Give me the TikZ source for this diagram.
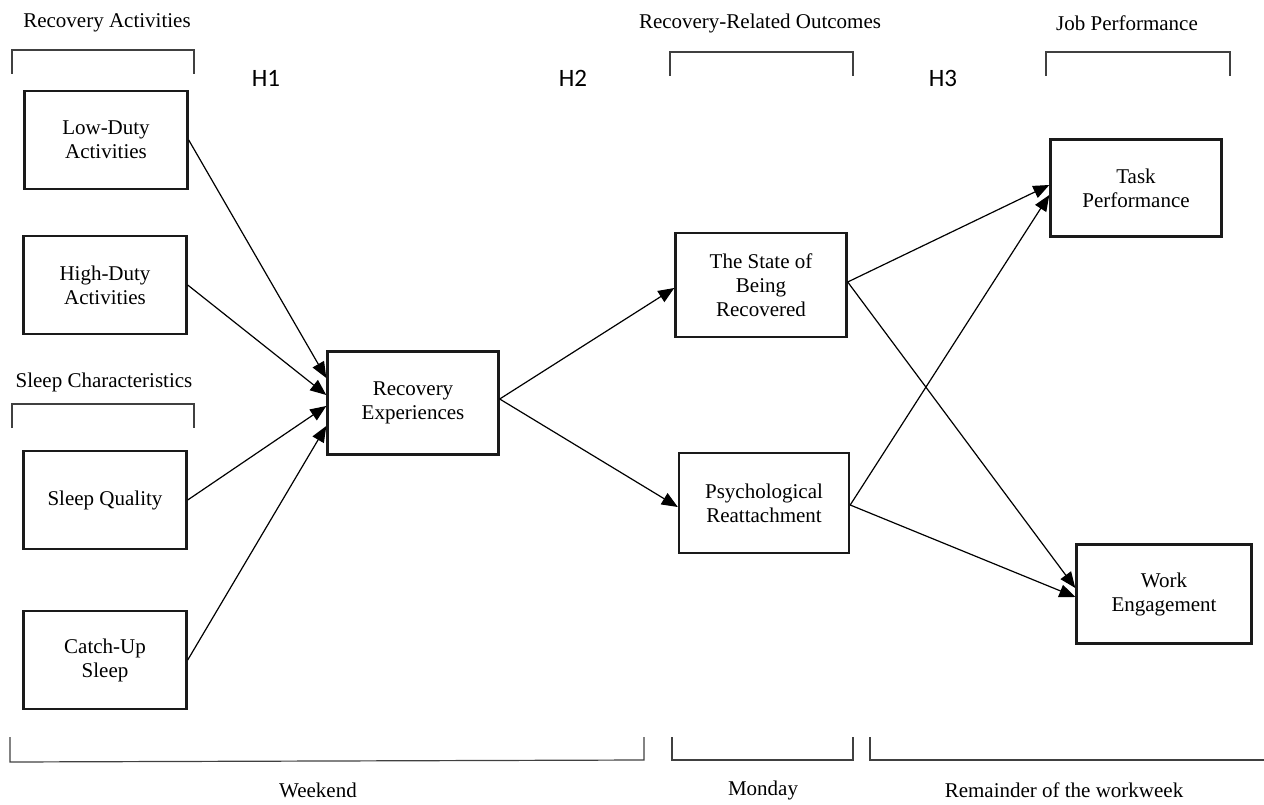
\documentclass[tikz,border=0pt]{standalone}
\usepackage{fontspec}
\setmainfont{Liberation Serif}
\newfontfamily\hypfont{Carlito}
\usetikzlibrary{arrows.meta, positioning}
\definecolor{boxline}{HTML}{1A1A1A}
\definecolor{bracketgray}{HTML}{404040}

\begin{document}
\begin{tikzpicture}[x=1pt, y=-1pt,
  box/.style={draw=boxline, line width=2.4pt, minimum width=163pt, minimum height=98pt, align=center, inner sep=2pt, font=\fontsize{21}{24}\selectfont},
  arrow/.style={-{Triangle[length=16pt,width=13pt]}, line width=1.2pt},
  bracket/.style={draw=bracketgray, line width=1.2pt},
  caption/.style={font=\fontsize{21}{24}\selectfont},
  hyp/.style={font=\fontsize{25}{25}\selectfont\hypfont}]

  % Page frame
  \useasboundingbox (0,0) rectangle (1264,805);

  % Group titles (TOP)
  \node[caption] (ratitle) at (107,23) {Recovery Activities};
  \node[caption] (sctitle) at (104,382) {Sleep Characteristics};
  \node[caption] (rotitle) at (760,23) {Recovery-Related Outcomes};
  \node[caption] (jptitle) at (1127,23) {Job Performance};

  % Hypothesis labels
  \node[hyp] (h1) at (266,78) {H1};
  \node[hyp] (h2) at (573,78) {H2};
  \node[hyp] (h3) at (943,78) {H3};

  % Top brackets
  \foreach \xa/\xb/\yt in {12/194/50, 12/194/404, 670/853/52, 1046/1230/52} {
    \draw[bracket] (\xa,\yt+24) -- (\xa,\yt) -- (\xb,\yt) -- (\xb,\yt+24);
  }

  % Predictors (LEFT)
  \node[box] (low) at (106,140) {Low-Duty\\Activities};
  \node[box] (high) at (105,285) {High-Duty\\Activities};
  \node[box] (sq) at (105,500) {Sleep Quality};
  \node[box] (cu) at (105,660) {Catch-Up\\Sleep};

  % Mediators and outcomes
  \node[box, minimum width=171pt, minimum height=103pt] (re) at (413,403) {Recovery\\Experiences};
  \node[box, minimum width=171pt, minimum height=104pt] (state) at (761,285) {The State of\\Being\\Recovered};
  \node[box, minimum width=170pt, minimum height=100pt] (psych) at (764,503) {Psychological\\Reattachment};
  \node[box, minimum width=171pt, minimum height=97pt] (task) at (1136,188) {Task\\Performance};
  \node[box, minimum width=175pt, minimum height=99pt] (work) at (1164,594) {Work\\Engagement};

  % H1 paths
  \foreach \src/\dy in {low/25, high/8, sq/-3, cu/-23} {
    \draw[arrow] (\src.east) -- ([yshift=\dy pt]re.west);
  }

  % H2 paths
  \draw[arrow] ([yshift=4pt]re.east) -- ([yshift=-3pt]state.west);
  \draw[arrow] ([yshift=4pt]re.east) -- ([yshift=-4pt]psych.west);

  % H3 paths
  \draw[arrow] ([yshift=3pt]state.east) -- ([yshift=3pt]task.west);
  \draw[arrow] ([yshift=3pt]state.east) -- ([yshift=6pt]work.west);
  \draw[arrow] ([yshift=-2pt]psych.east) -- ([yshift=-7pt]task.west);
  \draw[arrow] ([yshift=-2pt]psych.east) -- ([yshift=-3pt]work.west);

  % Time brackets (BOTTOM)
  \draw[bracket] (10,737) -- (10,762) -- (644,760) -- (644,737);
  \draw[bracket] (672,737) -- (672,760) -- (853,760) -- (853,737);
  \draw[bracket] (870,737) -- (870,760) -- (1264,760);

  \node[caption] (weekend) at (318,790) {Weekend};
  \node[caption] (monday) at (763,790) {Monday};
  \node[caption] (rest) at (1064,790) {Remainder of the workweek};
\end{tikzpicture}
\end{document}
